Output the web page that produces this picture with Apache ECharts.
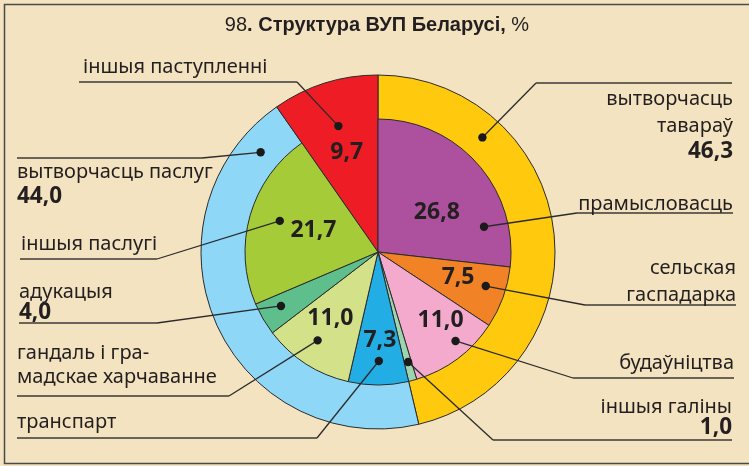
<!DOCTYPE html>
<html>
<head>
<meta charset="utf-8">
<script src="https://cdn.jsdelivr.net/npm/echarts@6/dist/echarts.min.js"></script>
<style>
  html, body { margin: 0; padding: 0; background: #F3E3C0; }
  #chart { width: 749px; height: 466px; }
</style>
</head>
<body>
<div id="chart"></div>
<script>
// Outer ring: sector groups
const groupNames = ['вытворчасць тавараў', 'вытворчасць паслуг', 'іншыя паступленні'];
const groupValues = [46.3, 44.0, 9.7];
const groupColors = ['#FFC90E', '#8FD7F7', '#EE1C25'];

// Inner pie: branches
const branchNames = ['прамысловасць', 'сельская гаспадарка', 'будаўніцтва', 'іншыя галіны',
  'транспарт', 'гандаль і грамадскае харчаванне', 'адукацыя', 'іншыя паслугі', 'іншыя паступленні'];
const branchValues = [26.8, 7.5, 11.0, 1.0, 7.3, 11.0, 4.0, 21.7, 9.7];
const branchColors = ['#AD519F', '#F28226', '#F3AACD', '#9DD5AF', '#22AEE4', '#D3E288',
  '#5FBF8C', '#A5CB38', '#EE1C25'];

const titleText = ['98', '. Структура ВУП Беларусі,', ' %'];

// Geometry
const CX = 378, CY = 252, R_OUT = 177, R_IN = 133;
const INK = '#231F20';
const FONT = '"Noto Sans", sans-serif';

const fmt = v => v.toFixed(1).replace('.', ',');

function spans(values) {
  const total = values.reduce((a, b) => a + b, 0);
  let acc = 0;
  return values.map(v => {
    const s = acc / total * 360;
    acc += v;
    return [s, acc / total * 360];
  });
}
const groupSpans = spans(groupValues);
const branchSpans = spans(branchValues);

// point inside a slice: t = position along the slice's arc (0..1), r = radius
function slicePoint(ring, idx, t, r) {
  const sp = (ring === 'outer' ? groupSpans : branchSpans)[idx];
  const a = (sp[0] + t * (sp[1] - sp[0])) * Math.PI / 180;
  return [CX + r * Math.sin(a), CY - r * Math.cos(a)];
}

// Value labels inside the inner pie
const innerLabels = [
  { idx: 0, t: 0.58, r: 71 },
  { idx: 1, t: 0.41, r: 84 },
  { idx: 2, t: 0.36, r: 93 },
  { idx: 4, t: 0.46, r: 88 },
  { idx: 5, t: 0.57, r: 82 },
  { idx: 7, t: 0.53, r: 68 },
  { idx: 8, t: 0.50, r: 104 }
];

// Callouts: anchor dot, elbow, underline end and text lines
const callouts = [
  { ring: 'outer', idx: 2, t: 0.5, r: 132, elbow: [297, 82], end: [79, 82],
    lines: [{ text: 'іншыя паступленні', x: 83, y: 67 }] },
  { ring: 'outer', idx: 1, t: 0.907, r: 154, elbow: [202, 158], end: [17, 158],
    lines: [{ text: 'вытворчасць паслуг', x: 17, y: 172 }, { value: groupValues[1], x: 17, y: 197 }] },
  { ring: 'inner', idx: 7, t: 0.52, r: 103, elbow: [157, 259], end: [20, 259],
    lines: [{ text: 'іншыя паслугі', x: 21, y: 244 }] },
  { ring: 'inner', idx: 6, t: 0.58, r: 111, elbow: [157, 323], end: [19, 323],
    lines: [{ text: 'адукацыя', x: 19, y: 292 }, { value: branchValues[6], x: 19, y: 313 }] },
  { ring: 'inner', idx: 5, t: 0.54, r: 107, elbow: [229, 396], end: [17, 396],
    lines: [{ text: 'гандаль і гра-', x: 17, y: 353 }, { text: 'мадскае харчаванне', x: 17, y: 377 }] },
  { ring: 'inner', idx: 4, t: 0.49, r: 109, elbow: [317, 438], end: [17, 438],
    lines: [{ text: 'транспарт', x: 17, y: 422 }] },
  { ring: 'outer', idx: 0, t: 0.254, r: 155, elbow: [536, 83], end: [732, 83], right: true,
    lines: [{ text: 'вытворчасць', x: 733, y: 99 }, { text: 'тавараў', x: 733, y: 126 },
            { value: groupValues[0], x: 733, y: 152 }] },
  { ring: 'inner', idx: 0, t: 0.794, r: 109, elbow: [577, 213], end: [733, 213], right: true,
    lines: [{ text: 'прамысловасць', x: 733, y: 204 }] },
  { ring: 'inner', idx: 1, t: 0.41, r: 113, elbow: [585, 305], end: [736, 305], right: true,
    lines: [{ text: 'сельская', x: 736, y: 268 }, { text: 'гаспадарка', x: 736, y: 295 }] },
  { ring: 'inner', idx: 2, t: 0.39, r: 118, elbow: [573, 378], end: [734, 378], right: true,
    lines: [{ text: 'будаўніцтва', x: 734, y: 363 }] },
  { ring: 'inner', idx: 3, t: 0.45, r: 114, elbow: [493, 440], end: [732, 440], right: true,
    lines: [{ text: 'іншыя галіны', x: 732, y: 407 }, { value: branchValues[3], x: 732, y: 428 }] }
];

const graphics = [];

// frame
graphics.push({ type: 'polyline', silent: true, z: 10,
  shape: { points: [[760, 4.5], [4.5, 4.5], [4.5, 463.5], [760, 463.5]] },
  style: { stroke: '#4a4a4a', lineWidth: 1.5, fill: null } });

// title
graphics.push({ type: 'text', silent: true, z: 10, x: 377, y: 25,
  style: {
    text: '{a|' + titleText[0] + '}{b|' + titleText[1] + '}{a|' + titleText[2] + '}',
    textAlign: 'center', textVerticalAlign: 'middle',
    rich: {
      a: { font: '20px "Liberation Sans Narrow", "Liberation Sans", sans-serif', fill: INK },
      b: { font: 'bold 20px "Liberation Sans Narrow", "Liberation Sans", sans-serif', fill: INK }
    }
  } });

innerLabels.forEach(l => {
  const p = slicePoint('inner', l.idx, l.t, l.r);
  graphics.push({ type: 'text', silent: true, z: 20, x: p[0], y: p[1],
    style: { text: fmt(branchValues[l.idx]), font: 'bold 23px ' + FONT, fill: INK,
             textAlign: 'center', textVerticalAlign: 'middle' } });
});

callouts.forEach(c => {
  const p = slicePoint(c.ring, c.idx, c.t, c.r);
  graphics.push({ type: 'polyline', silent: true, z: 20,
    shape: { points: [p, c.elbow] },
    style: { stroke: '#2b2b2b', lineWidth: 1.3, fill: null } });
  graphics.push({ type: 'polyline', silent: true, z: 20,
    shape: { points: [c.elbow, c.end] },
    style: { stroke: '#3d3a36', lineWidth: 1.5, fill: null } });
  graphics.push({ type: 'circle', silent: true, z: 21,
    shape: { cx: p[0], cy: p[1], r: 4.2 }, style: { fill: '#1a1a1a' } });
  c.lines.forEach(ln => {
    const isVal = ln.value !== undefined;
    graphics.push({ type: 'text', silent: true, z: 20, x: ln.x, y: ln.y,
      style: { text: isVal ? fmt(ln.value) : ln.text,
               font: (isVal ? 'bold 22.5px ' : '20px ') + FONT, fill: INK,
               textAlign: c.right ? 'right' : 'left', textVerticalAlign: 'middle' } });
  });
});

const chart = echarts.init(document.getElementById('chart'), null, { renderer: 'canvas' });
chart.setOption({
  backgroundColor: '#F3E3C0',
  animation: false,
  series: [
    {
      type: 'pie', silent: true, z: 2,
      center: [CX, CY], radius: [0, R_OUT],
      startAngle: 90, clockwise: true,
      label: { show: false }, labelLine: { show: false },
      itemStyle: { borderColor: '#2b2b2b', borderWidth: 1 },
      data: groupValues.map((v, i) => ({ name: groupNames[i], value: v,
        itemStyle: { color: groupColors[i] } }))
    },
    {
      type: 'pie', silent: true, z: 3,
      center: [CX, CY], radius: [0, R_IN],
      startAngle: 90, clockwise: true,
      label: { show: false }, labelLine: { show: false },
      itemStyle: { borderColor: '#2b2b2b', borderWidth: 1 },
      data: branchValues.map((v, i) => ({ name: branchNames[i], value: v,
        itemStyle: i === branchValues.length - 1
          ? { color: 'rgba(0,0,0,0)', borderWidth: 0 }
          : { color: branchColors[i] } }))
    }
  ],
  graphic: graphics
});
</script>
</body>
</html>
